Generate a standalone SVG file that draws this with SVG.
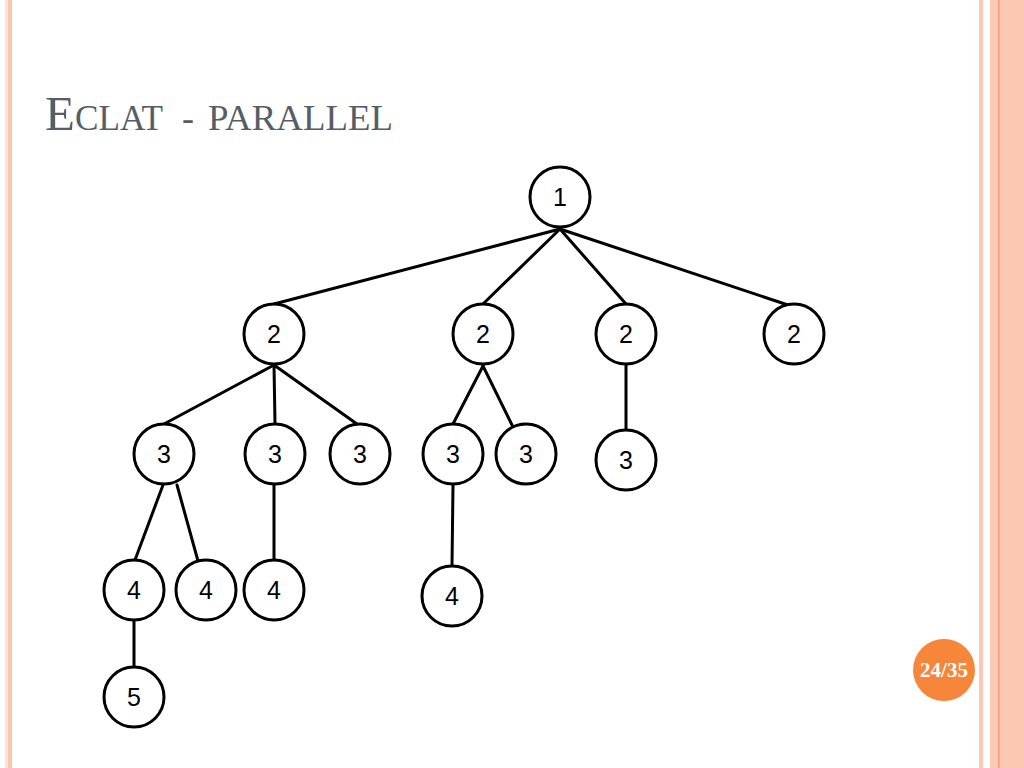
<svg xmlns="http://www.w3.org/2000/svg" width="1024" height="768" viewBox="0 0 1024 768">
<style>
.n circle{fill:#fff;stroke:#000;stroke-width:3}
.n text{font-family:"Liberation Sans",Arial,sans-serif;font-size:25px;fill:#000;text-anchor:middle;dominant-baseline:central}
#edges line{stroke:#000;stroke-width:3;stroke-linecap:round}
.title{font-family:"Liberation Serif","Times New Roman",serif;fill:#575d66}
</style>
<rect width="1024" height="768" fill="#fff"/>
<!-- borders -->
<rect x="5" y="0" width="3" height="768" fill="#fbe3d6"/>
<rect x="8" y="0" width="4" height="768" fill="#fac6b1"/>
<rect x="979" y="0" width="4" height="768" fill="#fac8b4"/>
<rect x="990" y="0" width="34" height="768" fill="#fbcab6"/>
<rect x="1008" y="0" width="16" height="768" fill="#fcc8b2"/>
<rect x="998" y="0" width="1.5" height="768" fill="#f29a6c"/>
<!-- title -->
<text class="title" y="130"><tspan x="45" font-size="49">E</tspan><tspan font-size="36" textLength="88" lengthAdjust="spacingAndGlyphs">CLAT</tspan><tspan x="182" font-size="36">-</tspan><tspan x="208" font-size="36" textLength="185" lengthAdjust="spacingAndGlyphs">PARALLEL</tspan></text>
<!-- page badge -->
<g id="badge">
<circle cx="944" cy="670" r="31" fill="#f5863a"/>
<text x="944" y="677" font-family="Liberation Serif,serif" font-weight="bold" font-size="21" fill="#fff" text-anchor="middle">24/35</text>
</g>
<g id="edges">
<line x1="560" y1="229" x2="274" y2="304"/>
<line x1="560" y1="229" x2="483" y2="304"/>
<line x1="560" y1="229" x2="626" y2="304"/>
<line x1="560" y1="229" x2="788" y2="305"/>
<line x1="274" y1="365" x2="164" y2="424"/>
<line x1="274" y1="365" x2="275" y2="424"/>
<line x1="274" y1="365" x2="357" y2="424"/>
<line x1="483" y1="366" x2="453" y2="424"/>
<line x1="483" y1="366" x2="512" y2="425"/>
<line x1="626" y1="365" x2="626" y2="430"/>
<line x1="163" y1="485" x2="135" y2="560"/>
<line x1="177" y1="485" x2="198" y2="561"/>
<line x1="274" y1="485" x2="274" y2="560"/>
<line x1="453" y1="485" x2="452" y2="566"/>
<line x1="134" y1="621" x2="134" y2="668"/>
</g>
<g id="n1" class="n"><circle cx="560" cy="197" r="30"/><text x="560" y="197">1</text></g>
<g id="n2a" class="n"><circle cx="274" cy="334" r="30"/><text x="274" y="334">2</text></g>
<g id="n2b" class="n"><circle cx="483" cy="334" r="30"/><text x="483" y="334">2</text></g>
<g id="n2c" class="n"><circle cx="626" cy="334" r="30"/><text x="626" y="334">2</text></g>
<g id="n2d" class="n"><circle cx="794" cy="334" r="30"/><text x="794" y="334">2</text></g>
<g id="n3a" class="n"><circle cx="164" cy="454" r="30"/><text x="164" y="454">3</text></g>
<g id="n3b" class="n"><circle cx="275" cy="454" r="30"/><text x="275" y="454">3</text></g>
<g id="n3c" class="n"><circle cx="360" cy="454" r="30"/><text x="360" y="454">3</text></g>
<g id="n3d" class="n"><circle cx="453" cy="454" r="30"/><text x="453" y="454">3</text></g>
<g id="n3e" class="n"><circle cx="526" cy="454" r="30"/><text x="526" y="454">3</text></g>
<g id="n3f" class="n"><circle cx="626" cy="460" r="30"/><text x="626" y="460">3</text></g>
<g id="n4a" class="n"><circle cx="134" cy="590" r="30"/><text x="134" y="590">4</text></g>
<g id="n4b" class="n"><circle cx="206" cy="590" r="30"/><text x="206" y="590">4</text></g>
<g id="n4c" class="n"><circle cx="274" cy="590" r="30"/><text x="274" y="590">4</text></g>
<g id="n4d" class="n"><circle cx="452" cy="596" r="30"/><text x="452" y="596">4</text></g>
<g id="n5" class="n"><circle cx="134" cy="697" r="30"/><text x="134" y="697">5</text></g>
</svg>
